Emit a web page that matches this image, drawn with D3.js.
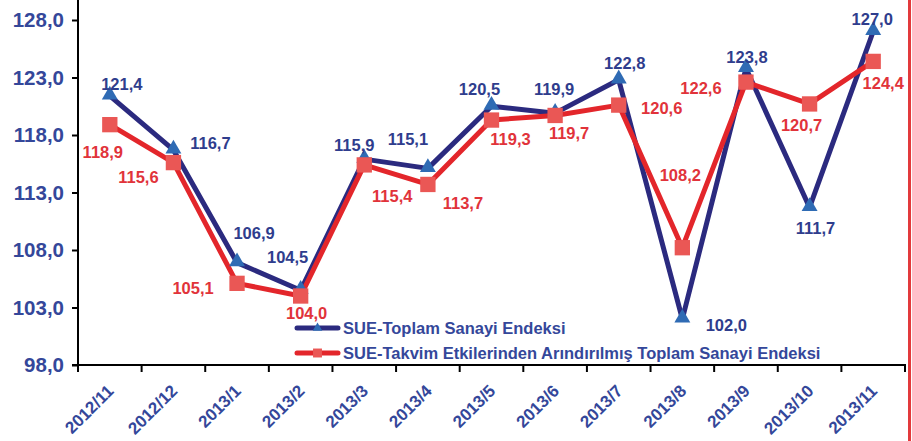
<!DOCTYPE html>
<html>
<head>
<meta charset="utf-8">
<script src="https://cdn.jsdelivr.net/npm/d3@7/dist/d3.min.js"></script>
<style>
  html, body { margin: 0; padding: 0; background: #fff; }
  svg { display: block; font-family: Arial, "Liberation Sans", sans-serif; font-weight: bold; }
</style>
</head>
<body>
<svg id="chart" width="912" height="441"></svg>
<script>
// ---- data ----
const categories = ["2012/11","2012/12","2013/1","2013/2","2013/3","2013/4","2013/5","2013/6","2013/7","2013/8","2013/9","2013/10","2013/11"];
const toplamSanayi = [121.4,116.7,106.9,104.5,115.9,115.1,120.5,119.9,122.8,102.0,123.8,111.7,127.0];
const takvimArindirilmis = [118.9,115.6,105.1,104.0,115.4,113.7,119.3,119.7,120.6,108.2,122.6,120.7,124.4];
const yTickValues = [98,103,108,113,118,123,128];
const seriesNames = ["SUE-Toplam Sanayi Endeksi", "SUE-Takvim Etkilerinden Arındırılmış Toplam Sanayi Endeksi"];

// ---- layout (label placement offsets, px) ----
const blueLabelOffsets = [[12,-12],[37,-7],[17,-30],[-13,-33],[-10,-14],[-20,-29],[-12,-17],[-1,-24],[6,-17],[44,6],[1,-11],[6,21],[-1,-13]];
const redLabelOffsets  = [[-7,27],[-35,14],[-44,5],[6,17],[28,31],[35,19],[19,19],[14,18],[43,3],[-2,-73],[-45,6],[-8,21],[10,22]];

const C = {
  blueLine: "#2B2A7F", blueMarker: "#2F6BB4", blueText: "#2F3D8D",
  redLine: "#E3262B", redMarker: "#EA5755", redText: "#E1333A",
  axisText: "#34479A"
};

const svg = d3.select("#chart");
const x = d3.scaleBand().domain(categories).range([78, 905]);
const y = d3.scaleLinear().domain([98, 128]).range([365, 20]);
const cx = d => x(d) + x.bandwidth() / 2;
const fmt = v => d3.format(".1f")(v).replace(".", ",");

// right border line
svg.append("line").attr("x1", 909.5).attr("x2", 909.5).attr("y1", 0).attr("y2", 441)
  .attr("stroke", "#E23A3C").attr("stroke-width", 3);

// y axis
const yAxis = svg.append("g").attr("transform", "translate(78,0)")
  .call(d3.axisLeft(y).tickValues(yTickValues).tickSize(6).tickSizeOuter(0).tickFormat(fmt));
yAxis.select(".domain").remove();
yAxis.selectAll(".tick line").attr("stroke", "#000").attr("stroke-width", 2);
yAxis.selectAll(".tick text").attr("x", -14).attr("fill", C.axisText)
  .style("font-size", "20.5px").style("font-weight", "bold").style("font-family", "Arial, 'Liberation Sans', sans-serif");
svg.append("line").attr("x1", 78).attr("x2", 78).attr("y1", 0).attr("y2", 366)
  .attr("stroke", "#000").attr("stroke-width", 2);

// x axis
const xAxis = svg.append("g").attr("transform", "translate(0,365)")
  .call(d3.axisBottom(x).tickSize(0).tickSizeOuter(0));
xAxis.select(".domain").attr("stroke", "#000").attr("stroke-width", 2).attr("d", "M72,0H906");
xAxis.selectAll(".tick text")
  .attr("fill", C.axisText)
  .style("font-size", "17px").style("font-weight", "bold").style("font-family", "Arial, 'Liberation Sans', sans-serif")
  .attr("text-anchor", "end")
  .attr("dy", null).attr("y", 0)
  .attr("transform", "translate(5,27) rotate(-45)");
const boundaries = categories.map(c => x(c)).concat([x.range()[1]]);
svg.append("g").selectAll("line").data(boundaries).join("line")
  .attr("x1", d => d).attr("x2", d => d).attr("y1", 365).attr("y2", 372)
  .attr("stroke", "#000").attr("stroke-width", 2);

// lines
const lineGen = vals => d3.line().x((d, i) => cx(categories[i])).y(d => y(d))(vals);
svg.append("path").attr("d", lineGen(toplamSanayi)).attr("fill", "none")
  .attr("stroke", C.blueLine).attr("stroke-width", 5).attr("stroke-linejoin", "round");
svg.append("path").attr("d", lineGen(takvimArindirilmis)).attr("fill", "none")
  .attr("stroke", C.redLine).attr("stroke-width", 5).attr("stroke-linejoin", "round");

// markers
const tri = d3.symbol().type(d3.symbolTriangle).size(110);
const sq = d3.symbol().type(d3.symbolSquare).size(235);
svg.append("g").selectAll("path").data(toplamSanayi).join("path")
  .attr("d", tri).attr("transform", (d, i) => `translate(${cx(categories[i])},${y(d) - 1})`)
  .attr("fill", C.blueMarker);
svg.append("g").selectAll("path").data(takvimArindirilmis).join("path")
  .attr("d", sq).attr("transform", (d, i) => `translate(${cx(categories[i])},${y(d)})`)
  .attr("fill", C.redMarker);

// data labels
svg.append("g").selectAll("text").data(toplamSanayi).join("text")
  .attr("x", (d, i) => cx(categories[i]) + blueLabelOffsets[i][0])
  .attr("y", (d, i) => y(d) + blueLabelOffsets[i][1])
  .attr("text-anchor", "middle").attr("dominant-baseline", "central")
  .attr("fill", C.blueText).style("font-size", "16.5px").text(fmt);
svg.append("g").selectAll("text").data(takvimArindirilmis).join("text")
  .attr("x", (d, i) => cx(categories[i]) + redLabelOffsets[i][0])
  .attr("y", (d, i) => y(d) + redLabelOffsets[i][1])
  .attr("text-anchor", "middle").attr("dominant-baseline", "central")
  .attr("fill", C.redText).style("font-size", "16.5px").text(fmt);

// legend
const legend = svg.append("g");
const legendItems = [
  { name: seriesNames[0], line: C.blueLine, marker: C.blueMarker, sym: d3.symbol().type(d3.symbolTriangle).size(40), y: 328 },
  { name: seriesNames[1], line: C.redLine, marker: C.redMarker, sym: d3.symbol().type(d3.symbolSquare).size(80), y: 353 }
];
legendItems.forEach(it => {
  legend.append("line").attr("x1", 297).attr("x2", 338).attr("y1", it.y).attr("y2", it.y)
    .attr("stroke", it.line).attr("stroke-width", 5).attr("stroke-linecap", "round");
  legend.append("path").attr("d", it.sym).attr("transform", `translate(317.5,${it.y})`).attr("fill", it.marker);
  legend.append("text").attr("x", 343).attr("y", it.y).attr("dominant-baseline", "central")
    .attr("fill", C.axisText).style("font-size", "16.5px").text(it.name);
});
</script>
</body>
</html>
